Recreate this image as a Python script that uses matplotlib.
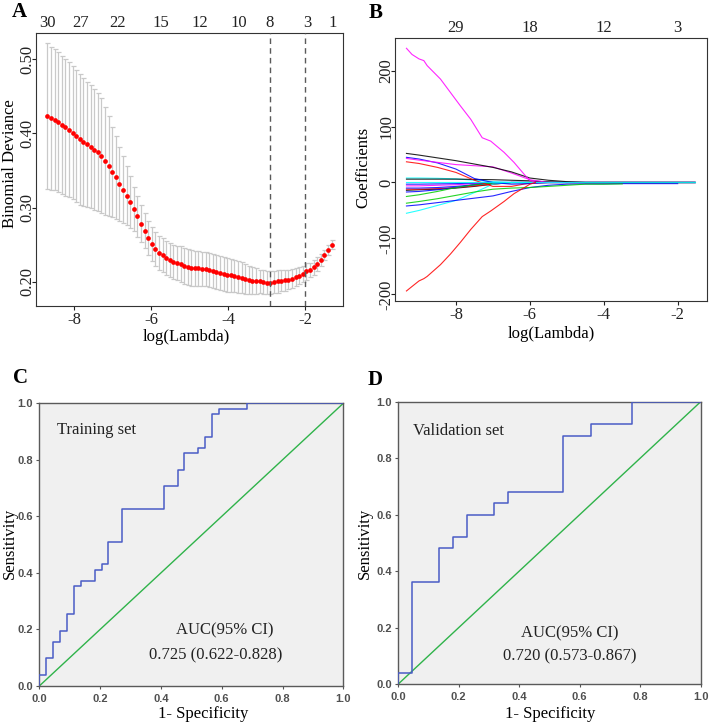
import numpy as np
import matplotlib
matplotlib.use("Agg")
import matplotlib.pyplot as plt

# ---------------- Panel A: cross-validation curve ----------------
cv_loglam_first = -8.69
cv_loglam_last = -1.31
cv_mean = [0.423, 0.420, 0.418, 0.415, 0.411, 0.408, 0.405, 0.401, 0.396, 0.392,
           0.388, 0.385, 0.382, 0.378, 0.375, 0.370, 0.363, 0.356, 0.348, 0.341,
           0.332, 0.324, 0.316, 0.307, 0.298, 0.288, 0.278, 0.269, 0.259, 0.251,
           0.244, 0.239, 0.236, 0.232, 0.229, 0.227, 0.225, 0.224, 0.221, 0.220,
           0.219, 0.218, 0.218, 0.2175, 0.217, 0.2165, 0.215, 0.2135, 0.212, 0.2105,
           0.2095, 0.209, 0.208, 0.2065, 0.2055, 0.2035, 0.202, 0.2015, 0.201, 0.2005,
           0.1995, 0.199, 0.199, 0.1995, 0.2005, 0.2015, 0.202, 0.203, 0.2045, 0.2065,
           0.2085, 0.211, 0.214, 0.216, 0.2195, 0.224, 0.230, 0.2365, 0.243, 0.250]
cv_sd = [0.098, 0.096, 0.095, 0.094, 0.093, 0.092, 0.091, 0.090, 0.089, 0.088,
         0.086, 0.084, 0.083, 0.081, 0.079, 0.077, 0.073, 0.067, 0.061, 0.056,
         0.050, 0.045, 0.040, 0.035, 0.030, 0.027, 0.025, 0.024, 0.023, 0.023,
         0.023, 0.023, 0.023, 0.023, 0.023, 0.023, 0.023, 0.024, 0.024, 0.024,
         0.024, 0.024, 0.023, 0.023, 0.023, 0.023, 0.023, 0.023, 0.023, 0.023,
         0.023, 0.022, 0.022, 0.021, 0.021, 0.020, 0.019, 0.018, 0.017, 0.016,
         0.016, 0.016, 0.016, 0.015, 0.015, 0.014, 0.014, 0.013, 0.013, 0.012,
         0.012, 0.011, 0.011, 0.010, 0.010, 0.009, 0.008, 0.007, 0.007, 0.006]
cv_nz_pos = [-8.69, -7.83, -6.86, -5.75, -4.73, -3.71, -2.91, -1.94, -1.28]
cv_nz_labels = ["30", "27", "22", "15", "12", "10", "8", "3", "1"]
lambda_min_log = -2.92
lambda_1se_log = -2.00

# ---------------- Panel B: coefficient paths ----------------
path_grid = [-9.34, -9.0, -8.5, -8.0, -7.5, -7.0, -6.5, -6.0, -5.5, -5.0,
             -4.5, -4.0, -3.5, -3.0, -2.5, -2.0, -1.53]
nan = float("nan")
path_black_1 = [52, 49, 44, 39, 33, 27, 19, 8, 4, 1.5, 0, 0, 0, 0, 0, 0, 0]
path_magenta_2 = [43, 40, 36, 32, 30, 28, 17, 5, 0, 0, 0, 0, 0, 0, 0, 0, 0]
path_blue_1 = [45, 42, 35, 24, 7, 0, -3, -2, 0, 0, 0, 0, 0, 0, 0, 0, 0]
path_red_1 = [37, 34, 27, 18, 4, -7, -7, -1, 0, 0, 0, 0, 0, 0, 0, 0, 0]
path_cyan_1 = [8, 8, 7.5, 6.5, 4, 1.5, 0, 0, 0, 0, 0, 0, 0, 0, 0, 0, 0]
path_black_2 = [6, 6, 6, 6, 5.5, 5, 4, 3, 1, 0, 0, 0, 0, 0, 0, 0, 0]
path_blue_2 = [-3, -3, -2.5, -2, -1, 0, 0, 0, 0, 0, 0, 0, 0, 0, 0, 0, 0]
path_magenta_3 = [-6, -6, -5, -4, -2, 0, 0, 0, 0, 0, 0, 0, 0, 0, 0, 0, 0]
path_blue_3 = [-10, -10, -9, -7, -4, -1, 0, 0, 0, 0, 0, 0, 0, 0, 0, 0, 0]
path_red_2 = [-12, -12, -11, -9, -6, -3, 0, 0, 0, 0, 0, 0, 0, 0, 0, 0, 0]
path_black_3 = [-14, -13, -12, -10, -7, -3, 0, 0, 0, 0, 0, 0, 0, 0, 0, 0, 0]
path_blue_4 = [-17, -16, -13, -9, -4, 0, 0, 0, 0, 0, 0, 0, 0, 0, 0, 0, 0]
path_green_1 = [-25, -22, -16, -9, -4, -1, 0, 0, 0, 0, 0, 0, 0, 0, 0, 0, 0]
path_blue_5 = [-42, -40, -36, -32, -28, -24, -16, -9, -5, -3, -2.5, -2.5, -2, -2, -2, -2, nan]
path_green_2 = [-37, -34, -29, -23, -17, -12, -10, -9, -7, -5, -3, -3, -2.5, nan, nan, nan, nan]
path_cyan_2 = [-55, -50, -41, -32, -18, -3, 0, 0, 0, 0, 0, 0, 0, 0, 0, 0, 0]
path_cyan_0 = [0, 0, 0, 0, 0, 0, 0, 0, 0, 0, 0, 0, 0, 0, 0, 0, 0]

big_grid = [-9.34, -9.19, -9.0, -8.87, -8.78, -8.42, -8.15, -7.88, -7.60, -7.29,
            -7.06, -6.70, -6.43, -6.12, -6.0, -5.85]
path_magenta_big = [240, 229, 221, 218, 209, 185, 161, 137, 113, 80,
                    74, 54, 36, 12, 4, 0]
path_red_big = [-194, -186, -176, -172, -168, -147, -128, -107, -84, -61,
                -51, -34, -20, -8, -3, 0]
path_df_pos = [-8, -6, -4, -2]
path_df_labels = ["29", "18", "12", "3"]

# ---------------- Panels C / D: ROC curves ----------------
roc_train_fpr = [0, 0, 0.023, 0.045, 0.068, 0.091, 0.114, 0.136, 0.182, 0.205, 0.227,
                 0.273, 0.409, 0.455, 0.477, 0.523, 0.545, 0.568, 0.591, 0.682, 1.0]
roc_train_tpr = [0, 0.039, 0.098, 0.157, 0.196, 0.255, 0.353, 0.373, 0.412, 0.431, 0.510,
                 0.627, 0.706, 0.765, 0.824, 0.843, 0.882, 0.961, 0.980, 1.0, 1.0]
roc_valid_fpr = [0, 0, 0.045, 0.136, 0.182, 0.227, 0.318, 0.364, 0.545, 0.636, 0.773, 1.0]
roc_valid_tpr = [0, 0.04, 0.36, 0.48, 0.52, 0.60, 0.64, 0.68, 0.88, 0.92, 1.0, 1.0]
auc_train_text = ["AUC(95% CI)", "0.725 (0.622-0.828)"]
auc_valid_text = ["AUC(95% CI)", "0.720 (0.573-0.867)"]

# ------------------------------------------------------------------
plt.rcParams["font.family"] = ["Liberation Serif", "DejaVu Serif"]
W, H = 709, 724
fig = plt.figure(figsize=(W / 100, H / 100), dpi=100)


def axes_px(x0, y0, x1, y1):
    return fig.add_axes([x0 / W, 1 - y1 / H, (x1 - x0) / W, (y1 - y0) / H])


def text_px(x, y, s, **kw):
    fig.text(x / W, 1 - y / H, s, **kw)


FS = 12

# ---------------- A ----------------
axA = axes_px(36, 33, 343, 306)
cv_loglam = np.linspace(cv_loglam_first, cv_loglam_last, len(cv_mean))
eb = axA.errorbar(cv_loglam, cv_mean, yerr=cv_sd, fmt="none", ecolor="#c9c9c9",
                  elinewidth=0.9, capsize=1.8, capthick=0.9, zorder=2)
for cl in eb[1]:
    cl.set_color("#9a9a9a")
axA.plot(cv_loglam, cv_mean, "o", color="#ff0000", ms=3.4, mec="none", zorder=3)
for xv in (lambda_min_log, lambda_1se_log):
    axA.axvline(xv, color="#5a5a5a", lw=1.0, ls=(0, (4, 3)), zorder=4)
axA.set_xlim(-8.985, -1.015)
axA.set_ylim(0.1675, 0.535)
axA.set_xticks([-8, -6, -4, -2])
axA.set_xticklabels(["-8", "-6", "-4", "-2"])
axA.set_yticks([0.2, 0.3, 0.4, 0.5])
axA.set_yticklabels(["0.20", "0.30", "0.40", "0.50"], rotation=90, va="center")
axA.tick_params(axis="both", direction="out", length=3, width=0.8, labelsize=FS,
                colors="#222222")
axA.tick_params(axis="x", pad=1.5)
axA.tick_params(axis="y", pad=-2.5)
for s in axA.spines.values():
    s.set_color("#333333")
    s.set_linewidth(0.8)
axAt = axA.twiny()
axAt.set_xlim(axA.get_xlim())
axAt.set_xticks(cv_nz_pos)
axAt.set_xticklabels(cv_nz_labels)
axAt.tick_params(axis="x", length=0, pad=1.5, labelsize=FS, colors="#222222")
for s in axAt.spines.values():
    s.set_visible(False)
text_px(186, 337, "log(Lambda)", ha="center", va="center", fontsize=FS)
text_px(10, 164, "Binomial Deviance", ha="center", va="center", rotation=90, fontsize=FS)

# ---------------- B ----------------
axB = axes_px(395, 38, 706.5, 300.7)
R_BLACK, R_RED, R_GREEN, R_BLUE, R_CYAN, R_MAG = ("#000000", "#ff0000", "#00cd00",
                                                  "#0000ff", "#00ffff", "#ff00ff")
paths = [
    (path_black_3, R_BLACK), (path_red_2, R_RED), (path_blue_3, R_BLUE),
    (path_magenta_3, R_MAG), (path_blue_2, R_BLUE), (path_blue_4, R_BLUE),
    (path_green_1, R_GREEN), (path_cyan_2, R_CYAN), (path_blue_5, R_BLUE),
    (path_green_2, R_GREEN), (path_cyan_1, R_CYAN), (path_black_2, R_BLACK),
    (path_red_1, R_RED), (path_blue_1, R_BLUE), (path_magenta_2, R_MAG),
    (path_black_1, R_BLACK), (path_cyan_0, R_CYAN),
]
for vals, col in paths:
    axB.plot(path_grid, vals, color=col, lw=0.8, alpha=0.85)
axB.plot(big_grid, path_magenta_big, color=R_MAG, lw=0.8, alpha=0.85)
axB.plot(big_grid, path_red_big, color=R_RED, lw=0.8, alpha=0.85)
axB.set_xlim(-9.65, -1.22)
axB.set_ylim(-211.4, 258.4)
axB.set_xticks([-8, -6, -4, -2])
axB.set_xticklabels(["-8", "-6", "-4", "-2"])
axB.set_yticks([-200, -100, 0, 100, 200])
axB.set_yticklabels(["-200", "-100", "0", "100", "200"], rotation=90, va="center")
axB.tick_params(axis="both", direction="out", length=3, width=0.8, labelsize=FS,
                colors="#222222")
axB.tick_params(axis="x", pad=1.5)
axB.tick_params(axis="y", pad=-2.5)
for s in axB.spines.values():
    s.set_color("#333333")
    s.set_linewidth(0.8)
axBt = axB.twiny()
axBt.set_xlim(axB.get_xlim())
axBt.set_xticks(path_df_pos)
axBt.set_xticklabels(path_df_labels)
axBt.tick_params(axis="x", length=0, pad=1.5, labelsize=FS, colors="#222222")
for s in axBt.spines.values():
    s.set_visible(False)
text_px(551, 334, "log(Lambda)", ha="center", va="center", fontsize=FS)
text_px(363, 167, "Coefficients", ha="center", va="center", rotation=90, fontsize=FS)

# ---------------- C / D ----------------
ROC_BLUE = "#4a5cc6"
REF_GREEN = "#2fb34a"


def roc_panel(box, fpr, tpr, title, auc_lines, title_xy, auc_xy, auc2_xy,
              xlabel_xy, ylabel_xy):
    ax = axes_px(*box)
    ax.set_facecolor("#f0f0f0")
    ax.plot([0, 1], [0, 1], color=REF_GREEN, lw=1.0, zorder=2)
    ax.step(fpr, tpr, where="post", color=ROC_BLUE, lw=1.1, zorder=3)
    ax.set_xlim(0, 1)
    ax.set_ylim(0, 1)
    ticks = [0.0, 0.2, 0.4, 0.6, 0.8, 1.0]
    labs = ["0.0", "0.2", "0.4", "0.6", "0.8", "1.0"]
    ax.set_xticks(ticks)
    ax.set_yticks(ticks)
    ax.set_xticklabels(labs, family="Liberation Sans", fontsize=8,
                       fontweight="bold", color="#505050")
    ax.set_yticklabels(labs, family="Liberation Sans", fontsize=8,
                       fontweight="bold", color="#505050")
    ax.tick_params(axis="both", direction="out", length=2.5, width=0.8,
                   color="#555555")
    ax.tick_params(axis="x", pad=3)
    ax.tick_params(axis="y", pad=2)
    for s in ax.spines.values():
        s.set_color("#5a5a5a")
        s.set_linewidth(1.0)
    ax.text(title_xy[0], title_xy[1], title, transform=ax.transAxes, fontsize=FS,
            ha="left", va="center", color="#222222")
    ax.text(auc_xy[0], auc_xy[1], auc_lines[0], transform=ax.transAxes, fontsize=FS,
            ha="center", va="center", color="#222222")
    ax.text(auc2_xy[0], auc2_xy[1], auc_lines[1], transform=ax.transAxes, fontsize=FS,
            ha="center", va="center", color="#222222")
    text_px(xlabel_xy[0], xlabel_xy[1], "1- Specificity", ha="center", va="center",
            fontsize=FS)
    text_px(ylabel_xy[0], ylabel_xy[1], "Sensitivity", ha="center", va="center",
            rotation=90, fontsize=FS)
    return ax


roc_panel((39.3, 403.3, 343.3, 686), roc_train_fpr, roc_train_tpr, "Training set",
          auc_train_text, (0.057, 0.906), (0.611, 0.198), (0.581, 0.107),
          (203, 714), (10, 543))
roc_panel((398.3, 401.7, 700.7, 684), roc_valid_fpr, roc_valid_tpr, "Validation set",
          auc_valid_text, (0.05, 0.896), (0.568, 0.18), (0.568, 0.099),
          (550, 714), (365, 543))

# panel letters
for (lx, ly, letter) in [(19, 12, "A"), (376, 13, "B"), (20, 378, "C"), (375, 380, "D")]:
    text_px(lx, ly, letter, ha="center", va="center", fontsize=15, fontweight="bold")

fig.savefig("out.png", dpi=100)
